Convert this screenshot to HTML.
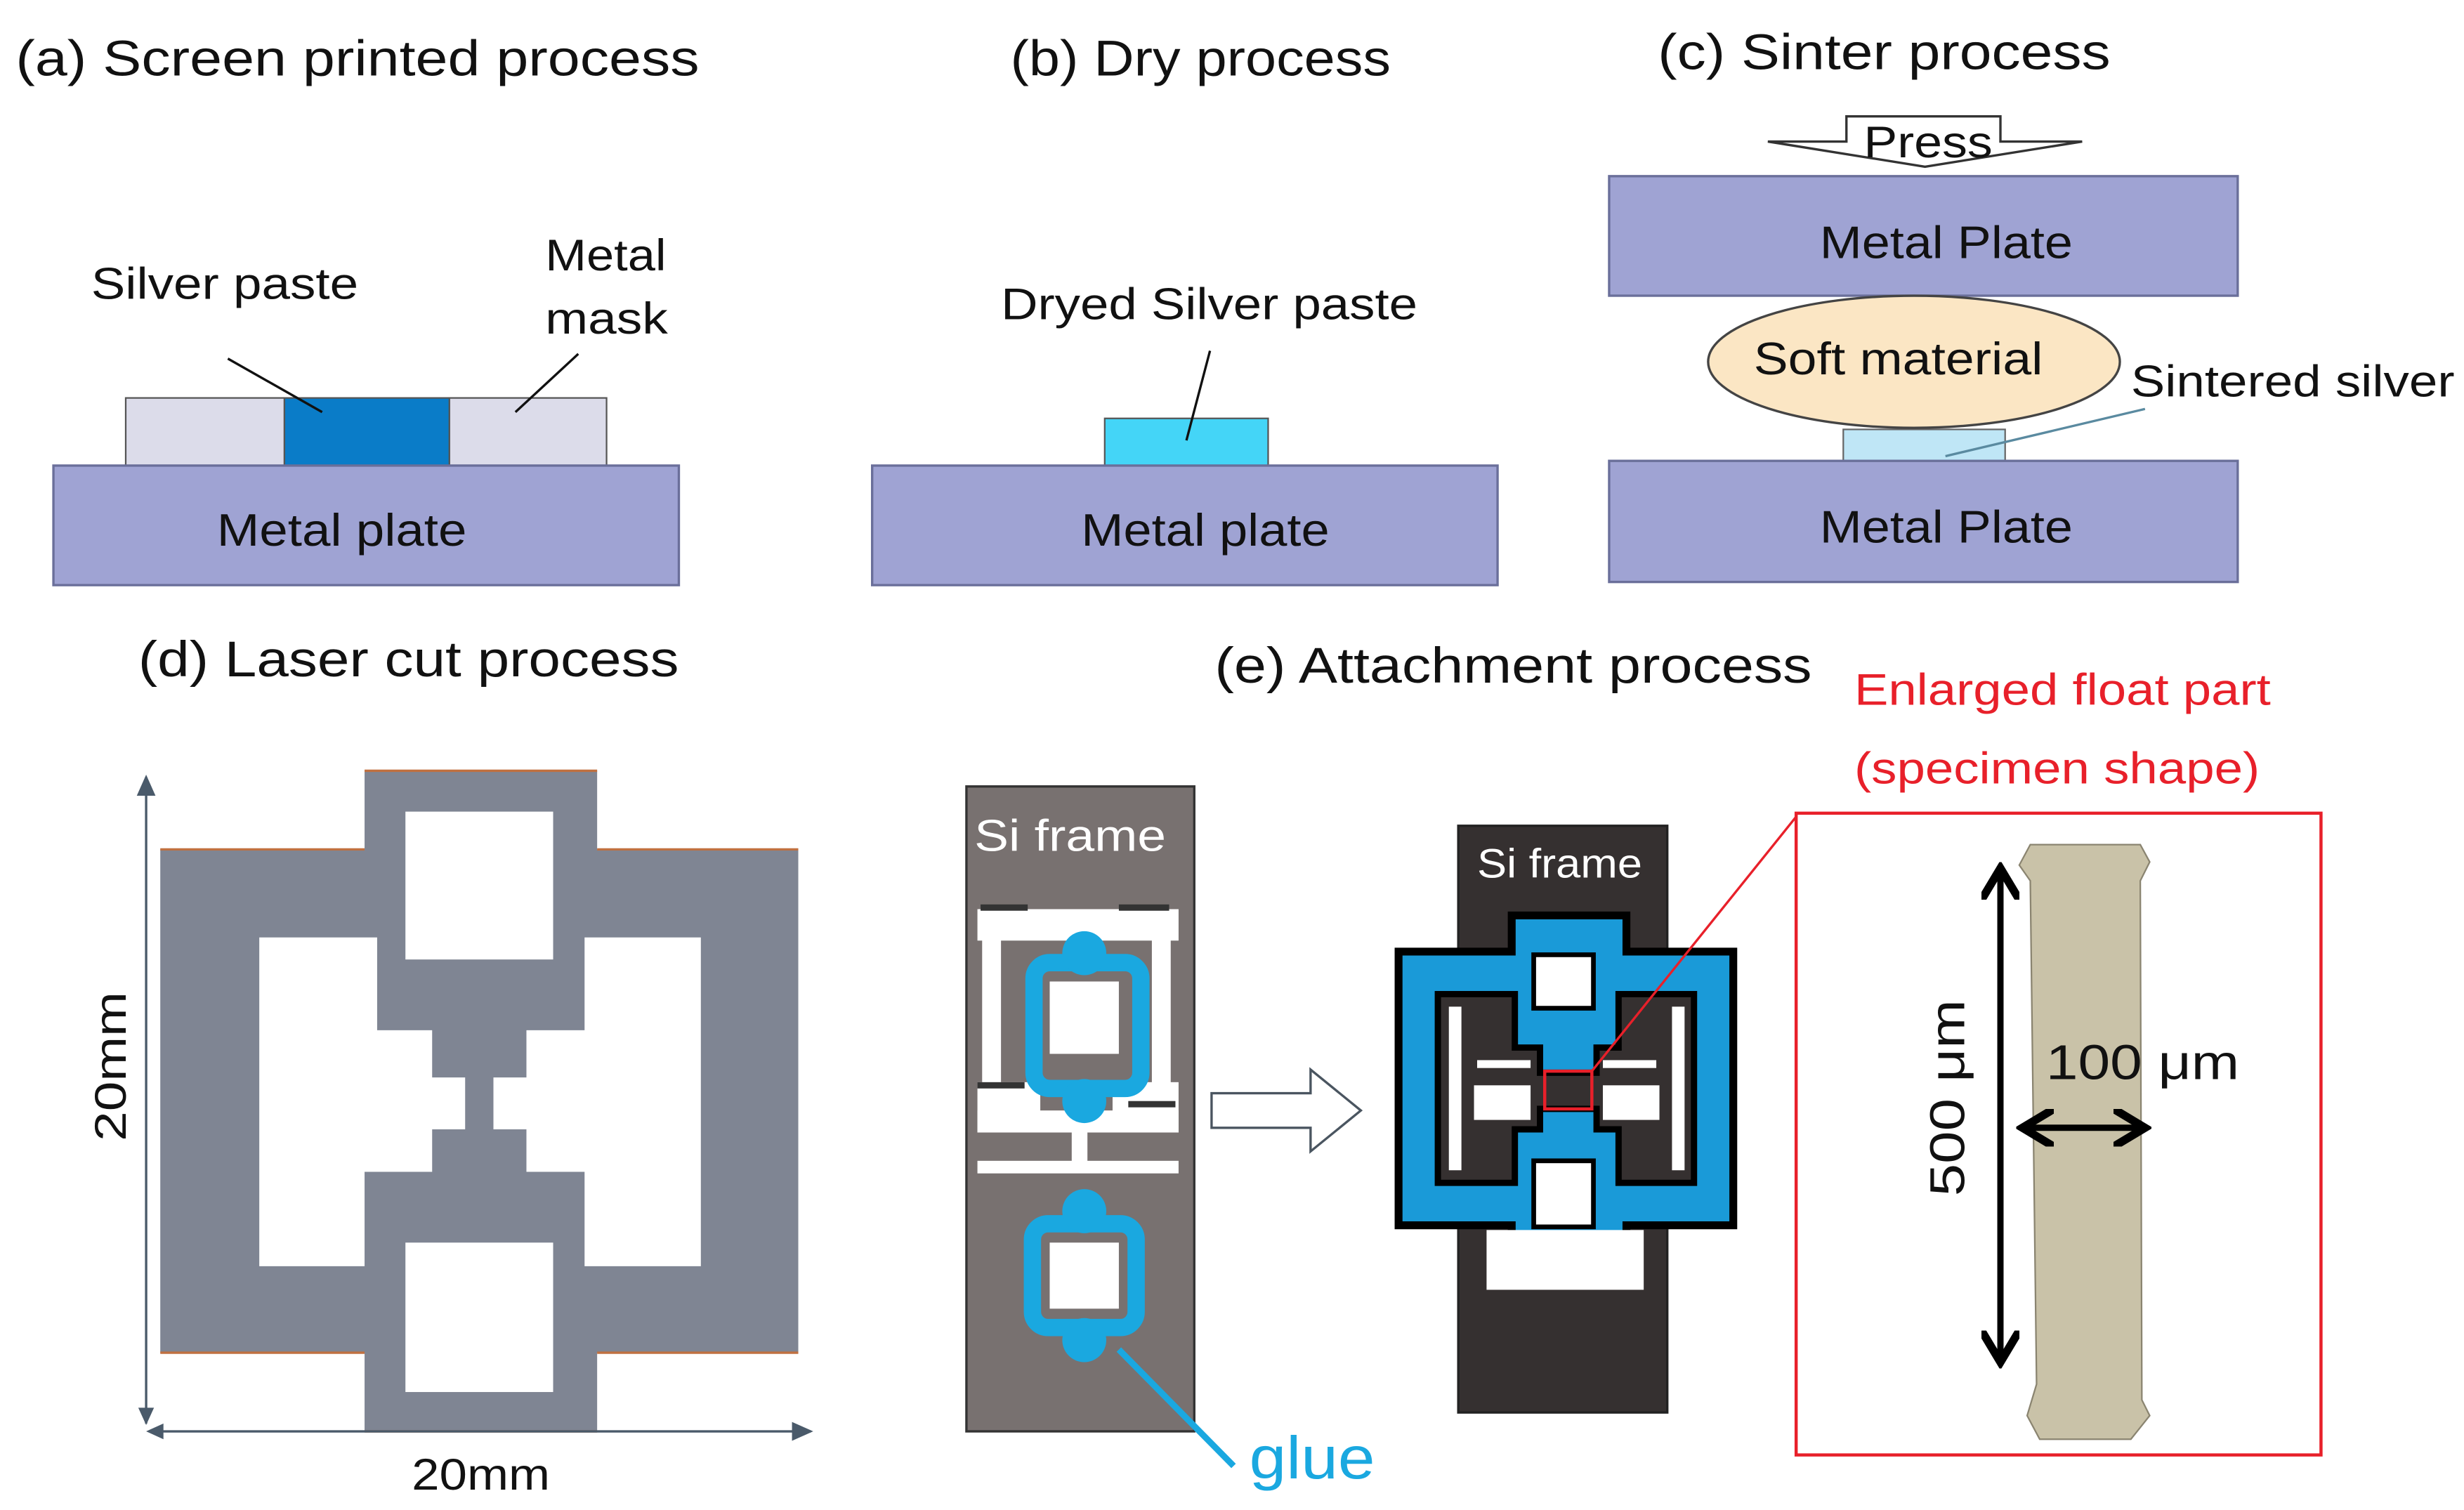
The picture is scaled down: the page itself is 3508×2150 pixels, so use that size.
<!DOCTYPE html>
<html><head><meta charset="utf-8"><style>
html,body{margin:0;padding:0;background:#fff;}
svg{display:block;}
text{font-family:"Liberation Sans",sans-serif;}
</style></head><body>
<svg width="3508" height="2150" viewBox="0 0 1568 960" preserveAspectRatio="none" xmlns="http://www.w3.org/2000/svg">
<defs>
<marker id="ag" markerWidth="10" markerHeight="10" refX="8" refY="5" orient="auto"><path d="M0,1 L9,5 L0,9 z" fill="#4a5a6a"/></marker>
<marker id="ab" markerWidth="6" markerHeight="6" refX="4" refY="3" orient="auto-start-reverse"><path d="M0,0 L5,3 L0,6" fill="none" stroke="#000" stroke-width="1.3"/></marker>
</defs>
<!-- (a) -->
<text x="10" y="48" font-size="32" fill="#111" textLength="435" lengthAdjust="spacingAndGlyphs">(a) Screen printed process</text>
<rect x="80" y="253" width="101" height="43" fill="#dcdcea" stroke="#555" stroke-width="1"/>
<rect x="181" y="253" width="105" height="43" fill="#0a7cc8" stroke="#555" stroke-width="1"/>
<rect x="286" y="253" width="100" height="43" fill="#dcdcea" stroke="#555" stroke-width="1"/>
<rect x="34" y="296" width="398" height="76" fill="#9fa3d3" stroke="#6a6f9a" stroke-width="1.5"/>
<text x="138" y="347" font-size="29" fill="#111" textLength="159" lengthAdjust="spacingAndGlyphs">Metal plate</text>
<text x="58" y="190" font-size="28" fill="#111" textLength="170" lengthAdjust="spacingAndGlyphs">Silver paste</text>
<text x="347" y="172" font-size="28" fill="#111" textLength="77" lengthAdjust="spacingAndGlyphs">Metal</text>
<text x="347" y="212" font-size="28" fill="#111" textLength="78" lengthAdjust="spacingAndGlyphs">mask</text>
<line x1="145" y1="228" x2="205" y2="262" stroke="#111" stroke-width="1.5"/>
<line x1="368" y1="225" x2="328" y2="262" stroke="#111" stroke-width="1.5"/>
<!-- (b) -->
<text x="643" y="48" font-size="32" fill="#111" textLength="242" lengthAdjust="spacingAndGlyphs">(b) Dry process</text>
<rect x="703" y="266" width="104" height="30" fill="#44d5f7" stroke="#555" stroke-width="1"/>
<rect x="555" y="296" width="398" height="76" fill="#9fa3d3" stroke="#6a6f9a" stroke-width="1.5"/>
<text x="688" y="347" font-size="29" fill="#111" textLength="158" lengthAdjust="spacingAndGlyphs">Metal plate</text>
<text x="637" y="203" font-size="28" fill="#111" textLength="265" lengthAdjust="spacingAndGlyphs">Dryed Silver paste</text>
<line x1="770" y1="223" x2="755" y2="280" stroke="#111" stroke-width="1.5"/>
<!-- (c) -->
<text x="1055" y="44" font-size="32" fill="#111" textLength="288" lengthAdjust="spacingAndGlyphs">(c) Sinter process</text>
<path d="M1175,74 L1273,74 L1273,90 L1325,90 L1225,106 L1125,90 L1175,90 Z" fill="#fff" stroke="#333" stroke-width="1.5"/>
<text x="1186" y="100" font-size="28" fill="#111" textLength="82" lengthAdjust="spacingAndGlyphs">Press</text>
<rect x="1024" y="112" width="400" height="76" fill="#9fa3d3" stroke="#6a6f9a" stroke-width="1.5"/>
<text x="1158" y="164" font-size="29" fill="#111" textLength="161" lengthAdjust="spacingAndGlyphs">Metal Plate</text>
<rect x="1173" y="273" width="103" height="20" fill="#bfe6f6" stroke="#666" stroke-width="1"/>
<ellipse cx="1218" cy="230" rx="131" ry="42" fill="#fbe6c4" stroke="#444" stroke-width="1.5"/>
<text x="1116" y="238" font-size="29" fill="#111" textLength="184" lengthAdjust="spacingAndGlyphs">Soft material</text>
<rect x="1024" y="293" width="400" height="77" fill="#9fa3d3" stroke="#6a6f9a" stroke-width="1.5"/>
<text x="1158" y="345" font-size="29" fill="#111" textLength="161" lengthAdjust="spacingAndGlyphs">Metal Plate</text>
<line x1="1238" y1="290" x2="1365" y2="260" stroke="#5a8aa0" stroke-width="1.5"/>
<text x="1356" y="252" font-size="28" fill="#111" textLength="206" lengthAdjust="spacingAndGlyphs">Sintered silver</text>
<!-- (d) -->
<text x="88" y="430" font-size="32" fill="#111" textLength="344" lengthAdjust="spacingAndGlyphs">(d) Laser cut process</text>
<path d="M232,490 L380,490 L380,540 L508,540 L508,860 L380,860 L380,910 L232,910 L232,860 L102,860 L102,540 L232,540 Z" fill="#7f8593"/>
<line x1="232" y1="490" x2="380" y2="490" stroke="#c07040" stroke-width="1.5"/>
<line x1="102" y1="540" x2="232" y2="540" stroke="#c07040" stroke-width="1.5"/>
<line x1="380" y1="540" x2="508" y2="540" stroke="#c07040" stroke-width="1.5"/>
<line x1="102" y1="860" x2="232" y2="860" stroke="#c07040" stroke-width="1.5"/>
<line x1="380" y1="860" x2="508" y2="860" stroke="#c07040" stroke-width="1.5"/>
<line x1="232" y1="910" x2="380" y2="910" stroke="#c07040" stroke-width="1.5"/>
<rect x="258" y="516" width="94" height="94" fill="#fff"/>
<rect x="258" y="790" width="94" height="95" fill="#fff"/>
<path d="M165,596 L240,596 L240,655 L275,655 L275,685 L296,685 L296,718 L275,718 L275,745 L232,745 L232,805 L165,805 Z" fill="#fff"/>
<path d="M446,596 L372,596 L372,655 L335,655 L335,685 L314,685 L314,718 L335,718 L335,745 L372,745 L372,805 L446,805 Z" fill="#fff"/>
<line x1="93" y1="905" x2="93" y2="494" stroke="#4a5a6a" stroke-width="1.5" marker-end="url(#ag)"/>
<path d="M88,895 L93,906 L98,895" fill="#4a5a6a"/>
<line x1="95" y1="910" x2="516" y2="910" stroke="#4a5a6a" stroke-width="1.5" marker-end="url(#ag)"/>
<path d="M104,905 L93,910 L104,915" fill="#4a5a6a"/>
<text x="80" y="678" font-size="28" text-anchor="middle" fill="#111" transform="rotate(-90 80 678)" textLength="95" lengthAdjust="spacingAndGlyphs">20mm</text>
<text x="262" y="947" font-size="28" fill="#111" textLength="88" lengthAdjust="spacingAndGlyphs">20mm</text>
<!-- (e) -->
<text x="773" y="434" font-size="32" fill="#111" textLength="380" lengthAdjust="spacingAndGlyphs">(e) Attachment process</text>
<text x="1180" y="448" font-size="28" fill="#e8202a" textLength="265" lengthAdjust="spacingAndGlyphs">Enlarged float part</text>
<text x="1180" y="498" font-size="28" fill="#e8202a" textLength="258" lengthAdjust="spacingAndGlyphs">(specimen shape)</text>
<!-- left Si frame -->
<rect x="615" y="500" width="145" height="410" fill="#787170" stroke="#333" stroke-width="1.5"/>
<text x="620" y="541" font-size="28" fill="#fff" textLength="122" lengthAdjust="spacingAndGlyphs">Si frame</text>
<g fill="#fff">
<rect x="622" y="578" width="128" height="20"/>
<rect x="625" y="596" width="12" height="95"/>
<rect x="733" y="596" width="12" height="95"/>
<rect x="622" y="688" width="40" height="32"/>
<rect x="708" y="688" width="42" height="32"/>
<rect x="622" y="706" width="128" height="14"/>
<rect x="682" y="720" width="10" height="22"/>
<rect x="622" y="738" width="128" height="8"/>
<rect x="668" y="624" width="44" height="46"/>
<rect x="668" y="790" width="44" height="42"/>
</g>
<g fill="#333"><rect x="624" y="575" width="30" height="4"/><rect x="712" y="575" width="32" height="4"/><rect x="622" y="688" width="30" height="4"/><rect x="718" y="700" width="30" height="4"/></g>
<g fill="none" stroke="#1aa8e0" stroke-width="11">
<rect x="658" y="612" width="68" height="80" rx="10"/>
<rect x="657" y="778" width="66" height="66" rx="10"/>
</g>
<g fill="#1aa8e0"><circle cx="690" cy="606" r="14"/><circle cx="690" cy="700" r="14"/><circle cx="690" cy="770" r="14"/><circle cx="690" cy="852" r="14"/></g>
<line x1="712" y1="858" x2="785" y2="932" stroke="#1aa8e0" stroke-width="4"/>
<text x="795" y="940" font-size="38" fill="#1aa8e0" textLength="80" lengthAdjust="spacingAndGlyphs">glue</text>
<!-- arrow -->
<path d="M771,695 L834,695 L834,680 L866,706 L834,732 L834,717 L771,717 Z" fill="#fff" stroke="#4a5560" stroke-width="1.5"/>
<!-- right Si frame -->
<rect x="928" y="525" width="133" height="373" fill="#353030" stroke="#222" stroke-width="1.5"/>
<text x="940" y="558" font-size="26" fill="#fff" textLength="105" lengthAdjust="spacingAndGlyphs">Si frame</text>
<path d="M962,582 L1035,582 L1035,605 L1103,605 L1103,779 L1035,779 L1035,808 L962,808 L962,779 L890,779 L890,605 L962,605 Z" fill="#1a9ad8" stroke="#000" stroke-width="5"/>
<path d="M915,632 L964,632 L964,666 L980,666 L980,682 L1016,682 L1016,666 L1030,666 L1030,632 L1078,632 L1078,752 L1030,752 L1030,718 L1016,718 L1016,705 L980,705 L980,718 L964,718 L964,752 L915,752 Z" fill="#353030" stroke="#000" stroke-width="4"/>
<g fill="#fff">
<rect x="922" y="640" width="8" height="104"/><rect x="1064" y="640" width="8" height="104"/>
<rect x="940" y="674" width="34" height="5"/><rect x="1020" y="674" width="34" height="5"/>
<rect x="938" y="690" width="36" height="22"/><rect x="1020" y="690" width="36" height="22"/>
<rect x="946" y="782" width="100" height="38"/>
</g>
<rect x="976" y="607" width="38" height="34" fill="#fff" stroke="#000" stroke-width="3"/>
<rect x="976" y="738" width="38" height="42" fill="#fff" stroke="#000" stroke-width="3"/>
<rect x="983" y="681" width="30" height="24" fill="none" stroke="#e8202a" stroke-width="2"/>
<line x1="1013" y1="681" x2="1144" y2="518" stroke="#e8202a" stroke-width="1.5"/>
<rect x="1143" y="517" width="334" height="408" fill="#fff" stroke="#e8202a" stroke-width="2"/>
<path d="M1292,537 L1362,537 L1368,548 L1362,560 L1363,890 L1368,900 L1356,915 L1298,915 L1290,900 L1296,880 L1292,560 L1285,550 Z" fill="#c9c2a8" stroke="#8a8470" stroke-width="1"/>
<line x1="1273" y1="556" x2="1273" y2="862" stroke="#000" stroke-width="4" marker-start="url(#ab)" marker-end="url(#ab)"/>
<line x1="1291" y1="717" x2="1361" y2="717" stroke="#000" stroke-width="4" marker-start="url(#ab)" marker-end="url(#ab)"/>
<text x="1250" y="698" font-size="31" text-anchor="middle" fill="#111" transform="rotate(-90 1250 698)" textLength="125" lengthAdjust="spacingAndGlyphs">500 μm</text>
<text x="1302" y="686" font-size="31" fill="#111" textLength="123" lengthAdjust="spacingAndGlyphs">100 μm</text>
</svg>
</body></html>
